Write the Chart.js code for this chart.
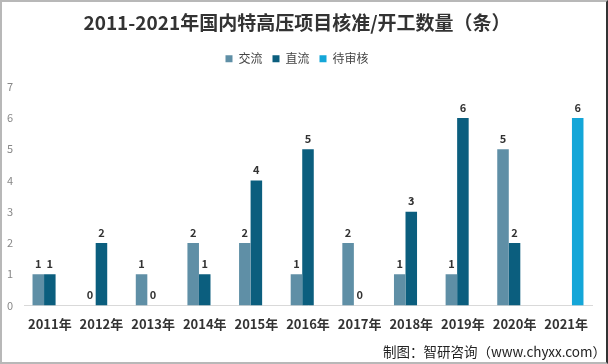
<!DOCTYPE html>
<html>
<head>
<meta charset="utf-8">
<script src="https://cdn.jsdelivr.net/npm/chart.js@4"></script>
<style>
  html, body { margin: 0; padding: 0; background: #fff; }
  #wrap { position: relative; width: 604px; height: 360px; border: 2px solid #b8b8b8; border-right-color: #333; }
  #source { position: absolute; right: 0px; bottom: 1px; font: 13.5px "Noto Sans CJK SC", sans-serif; color: #222; }
</style>
</head>
<body>
<div id="wrap">
  <canvas id="myChart" width="604" height="360"></canvas>
  <div id="source">制图：智研咨询（www.chyxx.com）</div>
</div>
<script>
const years = ['2011年', '2012年', '2013年', '2014年', '2015年', '2016年', '2017年', '2018年', '2019年', '2020年', '2021年'];
const acValues = [1, 0, 1, 2, 2, 1, 2, 1, 1, 5, null];
const dcValues = [1, 2, 0, 1, 4, 5, 0, 3, 6, 2, null];
const pendingValues = [null, null, null, null, null, null, null, null, null, null, 6];
const yTicks = [0, 1, 2, 3, 4, 5, 6, 7];

const cjk = '"Noto Sans CJK SC", sans-serif';

// value labels above each bar
const barLabels = {
    id: 'barLabels',
    afterDatasetsDraw(chart) {
        const ctx = chart.ctx;
        ctx.save();
        ctx.font = 'bold 11px ' + cjk;
        ctx.fillStyle = '#333';
        ctx.textAlign = 'center';
        ctx.textBaseline = 'bottom';
        chart.data.datasets.forEach((ds, i) => {
            chart.getDatasetMeta(i).data.forEach((bar, j) => {
                const v = ds.data[j];
                if (v === null) return;
                ctx.fillText(v, bar.x, bar.y - 5);
            });
        });
        ctx.restore();
    }
};

// extra room under the legend
const legendGap = {
    id: 'legendGap',
    beforeInit(chart) {
        const fit = chart.legend.fit;
        chart.legend.fit = function() {
            fit.bind(chart.legend)();
            this.height += 12;
        };
    }
};

new Chart(document.getElementById('myChart'), {
    type: 'bar',
    data: {
        labels: years,
        datasets: [
            { label: '交流', data: acValues, backgroundColor: '#5f8fa6' },
            { label: '直流', data: dcValues, backgroundColor: '#0b5e7e' },
            { label: '待审核', data: pendingValues, backgroundColor: '#14a6d8' }
        ]
    },
    options: {
        responsive: false,
        animation: false,
        categoryPercentage: 0.67,
        barPercentage: 1.0,
        layout: { padding: { left: 0, right: 14, top: 0, bottom: 27 } },
        plugins: {
            title: {
                display: true,
                text: '2011-2021年国内特高压项目核准/开工数量（条）',
                color: '#333',
                font: { family: cjk, size: 19, weight: 'bold' },
                padding: { top: 9, bottom: 9 }
            },
            legend: {
                labels: {
                    color: '#444',
                    font: { family: cjk, size: 12 },
                    boxWidth: 7,
                    boxHeight: 7,
                    padding: 10
                }
            },
            tooltip: { enabled: false }
        },
        scales: {
            x: {
                grid: { display: false },
                border: { display: true, color: '#d9d9d9' },
                ticks: { color: '#333', font: { family: cjk, size: 13, weight: 'bold' }, padding: 3 }
            },
            y: {
                min: 0,
                max: 7,
                afterBuildTicks(axis) { axis.ticks = yTicks.map(v => ({ value: v })); },
                afterFit(axis) { axis.width = 22; },
                grid: { display: false, drawTicks: false },
                border: { display: false },
                ticks: { color: '#888', font: { family: cjk, size: 11 }, padding: 11 }
            }
        }
    },
    plugins: [barLabels, legendGap]
});
</script>
</body>
</html>
